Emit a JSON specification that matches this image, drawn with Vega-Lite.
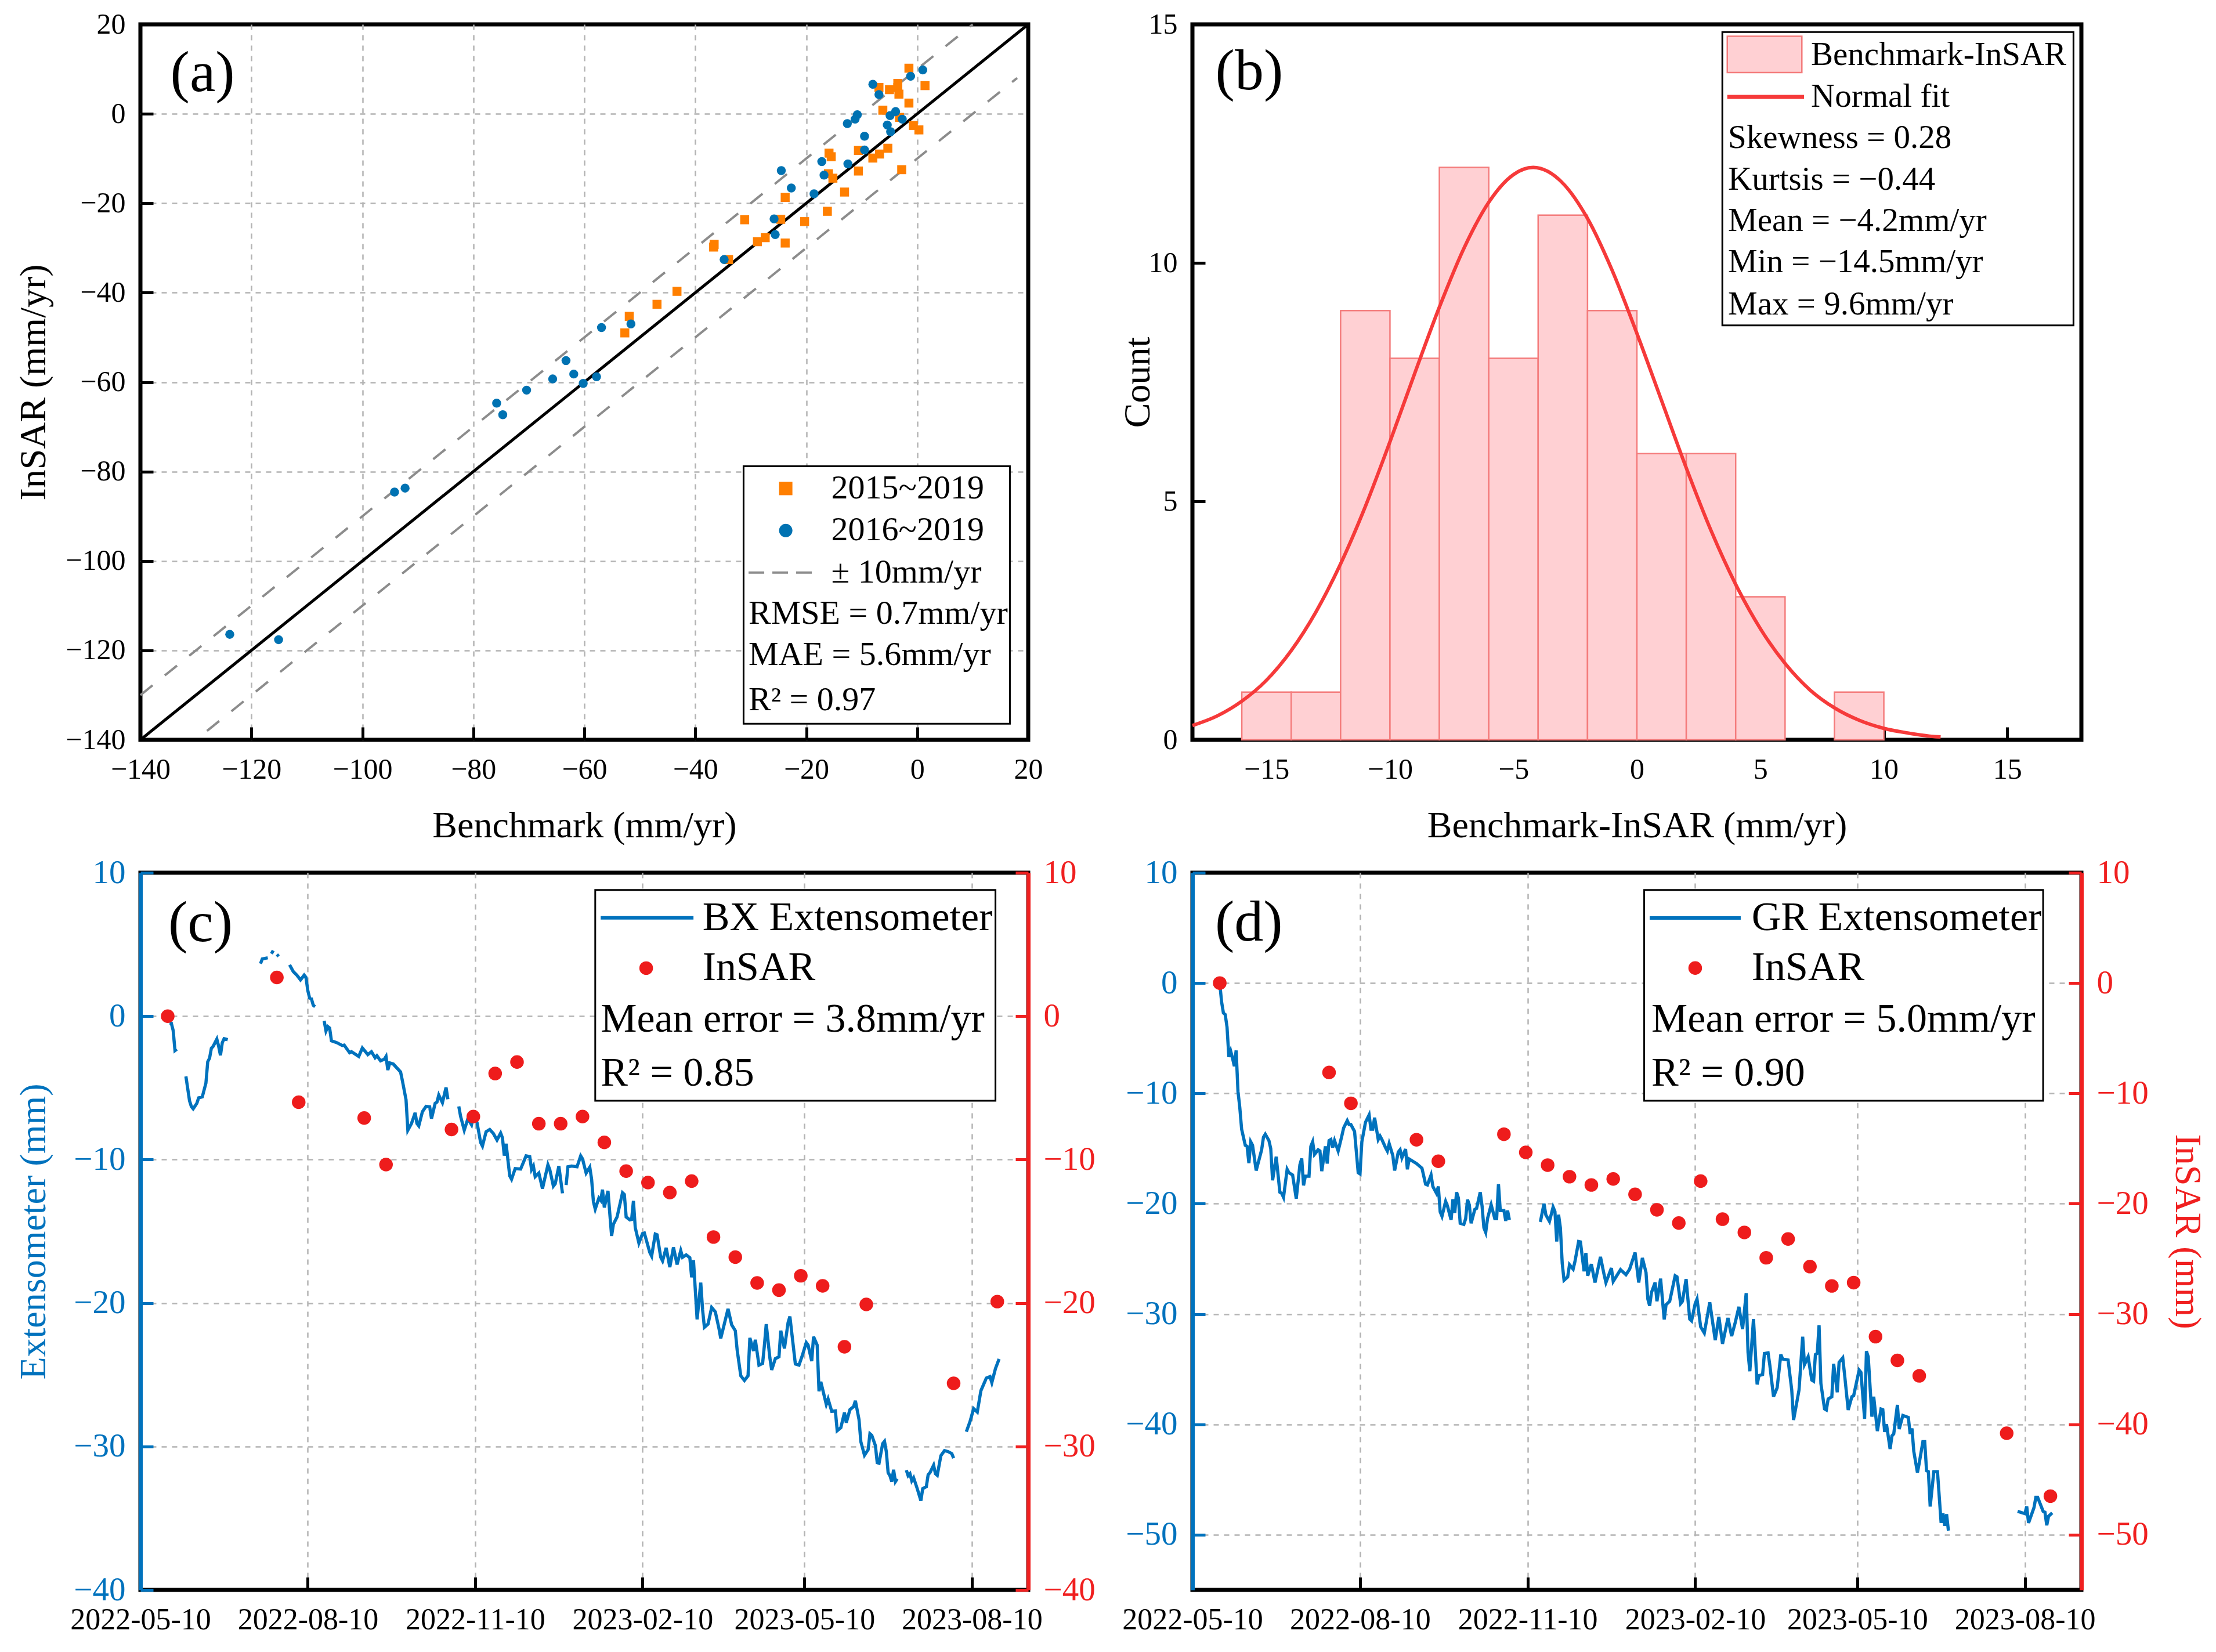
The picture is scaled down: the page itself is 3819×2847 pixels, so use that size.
{"$schema":"https://vega.github.io/schema/vega-lite/v6.json","background":"white","padding":{"left":23,"top":13,"right":0,"bottom":0},"columns":2,"spacing":{"row":229,"column":283},"bounds":"flush",
"config":{"font":"Liberation Serif","view":{"stroke":"#000","strokeWidth":7},"axis":{"labelFont":"Liberation Serif","labelFontSize":50,"titleFont":"Liberation Serif","titleFontSize":64,"titleFontWeight":"normal","titleColor":"#000","labelColor":"#000","domain":false,"grid":false,"tickColor":"#000","tickWidth":5,"tickSize":-22,"gridColor":"#b4b4b4","gridDash":[9,9],"gridWidth":2.5,"labelOverlap":false,"labelFlush":false,"labelBound":false,"labelPadding":48,"labelAngle":0,"labelLimit":500},"text":{"font":"Liberation Serif","fontSize":58,"align":"left","baseline":"middle","color":"#000"}},
"concat":[
{"width":1530,"height":1233,
"encoding":{"x":{"field":"x","type":"quantitative","scale":{"domain":[-140,20],"nice":false},"axis":{"title":"Benchmark (mm/yr)","values":[-140,-120,-100,-80,-60,-40,-20,0,20],"grid":true,"gridOpacity":{"condition":{"test":"datum.value==20||datum.value==-140","value":0},"value":1},"titlePadding":40}},"y":{"field":"y","type":"quantitative","scale":{"domain":[-140,20],"nice":false},"axis":{"title":"InSAR (mm/yr)","values":[-140,-120,-100,-80,-60,-40,-20,0,20],"grid":true,"gridOpacity":{"condition":{"test":"datum.value==20||datum.value==-140","value":0},"value":1},"titlePadding":22}}},
"layer":[
{"data":{"values":[{"x":-140,"y":-130},{"x":10,"y":20}]},"mark":{"type":"line","color":"#8c8c8c","strokeWidth":4,"strokeDash":[27,27]}},
{"data":{"values":[{"x":-128,"y":-138},{"x":18,"y":8}]},"mark":{"type":"line","color":"#8c8c8c","strokeWidth":4,"strokeDash":[27,27]}},
{"data":{"values":[{"x":-140,"y":-140},{"x":20,"y":20}]},"mark":{"type":"line","color":"#000","strokeWidth":5}},
{"data":{"values":[{"x":-1.5,"y":10.2},{"x":1.4,"y":6.3},{"x":-6.9,"y":5.9},{"x":-5,"y":5.4},{"x":-3.5,"y":6.8},{"x":-3.5,"y":5.9},{"x":-3.3,"y":4.4},{"x":-1.5,"y":2.4},{"x":-6.2,"y":0.8},{"x":-3.2,"y":-0.8},{"x":-0.7,"y":-2.6},{"x":0.3,"y":-3.6},{"x":-5.3,"y":-7.7},{"x":-6.8,"y":-9},{"x":-8,"y":-9.9},{"x":-10.6,"y":-8.2},{"x":-2.8,"y":-12.5},{"x":-15.9,"y":-8.8},{"x":-15.5,"y":-9.6},{"x":-16,"y":-13.4},{"x":-15.2,"y":-14.4},{"x":-10.6,"y":-12.8},{"x":-13.1,"y":-17.5},{"x":-23.8,"y":-18.7},{"x":-16.2,"y":-21.8},{"x":-20.3,"y":-24.1},{"x":-24.6,"y":-23.6},{"x":-31.1,"y":-23.7},{"x":-27.4,"y":-27.7},{"x":-28.8,"y":-28.6},{"x":-23.8,"y":-28.9},{"x":-36.6,"y":-29.2},{"x":-36.7,"y":-29.8},{"x":-34,"y":-32.6},{"x":-43.3,"y":-39.7},{"x":-46.9,"y":-42.6},{"x":-51.9,"y":-45.3},{"x":-52.7,"y":-49}]},"mark":{"type":"point","shape":"square","filled":true,"opacity":1,"size":240,"color":"#FF7F00"}},
{"data":{"values":[{"x":1,"y":9.8},{"x":-1.2,"y":8.4},{"x":-8,"y":6.6},{"x":-6.9,"y":4.3},{"x":-10.8,"y":-0.2},{"x":-11.2,"y":-1.2},{"x":-12.6,"y":-2.2},{"x":-3.9,"y":0.5},{"x":-4.9,"y":-0.4},{"x":-2.7,"y":-1.2},{"x":-5.4,"y":-2.5},{"x":-4.8,"y":-4},{"x":-9.5,"y":-5},{"x":-9.5,"y":-8.1},{"x":-17.2,"y":-10.7},{"x":-12.5,"y":-11.2},{"x":-24.5,"y":-12.7},{"x":-16.8,"y":-13.7},{"x":-22.7,"y":-16.6},{"x":-18.6,"y":-17.9},{"x":-25.8,"y":-23.5},{"x":-25.6,"y":-27},{"x":-34.8,"y":-32.6},{"x":-51.6,"y":-47},{"x":-56.9,"y":-47.8},{"x":-57.8,"y":-58.8},{"x":-60.2,"y":-60.3},{"x":-61.9,"y":-58.2},{"x":-65.7,"y":-59.3},{"x":-63.3,"y":-55.2},{"x":-70.4,"y":-61.8},{"x":-75.8,"y":-64.7},{"x":-74.7,"y":-67.3},{"x":-92.3,"y":-83.7},{"x":-94.2,"y":-84.6},{"x":-115.1,"y":-117.6},{"x":-123.9,"y":-116.4}]},"mark":{"type":"circle","opacity":1,"size":240,"color":"#0072B2"}},
{"data":{"values":[{"x":-31.3,"y":-78.8,"x2":16.7,"y2":-136.4}]},"mark":{"type":"rect","fill":"white","stroke":"#000","strokeWidth":3},"encoding":{"x2":{"field":"x2"},"y2":{"field":"y2"}}},
{"data":{"values":[{"x":-23.7,"y":-83.8}]},"mark":{"type":"point","shape":"square","filled":true,"opacity":1,"size":530,"color":"#FF7F00"}},
{"data":{"values":[{"x":-23.7,"y":-93.2}]},"mark":{"type":"circle","opacity":1,"size":530,"color":"#0072B2"}},
{"data":{"values":[{"x":-30.4,"y":-102.6},{"x":-17.7,"y":-102.6}]},"mark":{"type":"line","color":"#8c8c8c","strokeWidth":4,"strokeDash":[27,14]}},
{"data":{"values":[{"x":-15.5,"y":-83.8,"t":"2015~2019"},{"x":-15.5,"y":-93.2,"t":"2016~2019"},{"x":-15.5,"y":-102.6,"t":"± 10mm/yr"},{"x":-30.4,"y":-111.8,"t":"RMSE = 0.7mm/yr"},{"x":-30.4,"y":-121.1,"t":"MAE = 5.6mm/yr"},{"x":-30.4,"y":-131.2,"t":"R² = 0.97"}]},"mark":{"type":"text"},"encoding":{"text":{"field":"t"}}},
{"data":{"values":[{"x":-128.8,"y":9,"t":"(a)"}]},"mark":{"type":"text","fontSize":100,"align":"center"},"encoding":{"text":{"field":"t"}}}
]},
{"width":1532,"height":1233,
"encoding":{"x":{"field":"x","type":"quantitative","scale":{"domain":[-18,18],"nice":false},"axis":{"title":"Benchmark-InSAR (mm/yr)","values":[-15,-10,-5,0,5,10,15],"titlePadding":40}},"y":{"field":"y","type":"quantitative","scale":{"domain":[0,15],"nice":false},"axis":{"title":"Count","values":[0,5,10,15],"titlePadding":-14}}},
"layer":[
{"data":{"values":[{"x":-16,"x2":-14,"y":1},{"x":-14,"x2":-12,"y":1},{"x":-12,"x2":-10,"y":9},{"x":-10,"x2":-8,"y":8},{"x":-8,"x2":-6,"y":12},{"x":-6,"x2":-4,"y":8},{"x":-4,"x2":-2,"y":11},{"x":-2,"x2":0,"y":9},{"x":0,"x2":2,"y":6},{"x":2,"x2":4,"y":6},{"x":4,"x2":6,"y":3},{"x":8,"x2":10,"y":1}]},"mark":{"type":"rect","fill":"#FFD0D3","stroke":"#F47C7C","strokeWidth":2.5},"encoding":{"x2":{"field":"x2"},"y2":{"datum":0}}},
{"data":{"values":[{"x":-18,"y":0.3},{"x":-17,"y":0.5},{"x":-16,"y":0.81},{"x":-15,"y":1.25},{"x":-14,"y":1.87},{"x":-13,"y":2.68},{"x":-12,"y":3.69},{"x":-11,"y":4.89},{"x":-10,"y":6.25},{"x":-9,"y":7.68},{"x":-8,"y":9.07},{"x":-7,"y":10.31},{"x":-6,"y":11.27},{"x":-5,"y":11.85},{"x":-4.2,"y":12},{"x":-3,"y":11.67},{"x":-2,"y":10.93},{"x":-1,"y":9.84},{"x":0,"y":8.52},{"x":1,"y":7.11},{"x":2,"y":5.7},{"x":3,"y":4.39},{"x":4,"y":3.26},{"x":5,"y":2.33},{"x":6,"y":1.6},{"x":7,"y":1.05},{"x":8,"y":0.67},{"x":9,"y":0.41},{"x":10,"y":0.24},{"x":11,"y":0.14},{"x":12,"y":0.07},{"x":12.3,"y":0.06}]},"mark":{"type":"line","color":"#F63A3A","strokeWidth":6,"interpolate":"monotone"}},
{"data":{"values":[{"x":3.46,"y":14.84,"x2":17.68,"y2":8.69}]},"mark":{"type":"rect","fill":"white","stroke":"#000","strokeWidth":3},"encoding":{"x2":{"field":"x2"},"y2":{"field":"y2"}}},
{"data":{"values":[{"x":3.66,"y":14.75,"x2":6.68,"y2":13.99}]},"mark":{"type":"rect","fill":"#FFD0D3","stroke":"#F47C7C","strokeWidth":2.5},"encoding":{"x2":{"field":"x2"},"y2":{"field":"y2"}}},
{"data":{"values":[{"x":3.66,"y":13.48},{"x":6.77,"y":13.48}]},"mark":{"type":"line","color":"#F63A3A","strokeWidth":7}},
{"data":{"values":[{"x":7.05,"y":14.36,"t":"Benchmark-InSAR"},{"x":7.05,"y":13.48,"t":"Normal fit"},{"x":3.69,"y":12.62,"t":"Skewness = 0.28"},{"x":3.69,"y":11.74,"t":"Kurtsis = −0.44"},{"x":3.69,"y":10.88,"t":"Mean = −4.2mm/yr"},{"x":3.69,"y":10.01,"t":"Min = −14.5mm/yr"},{"x":3.69,"y":9.13,"t":"Max = 9.6mm/yr"}]},"mark":{"type":"text","fontSize":57},"encoding":{"text":{"field":"t"}}},
{"data":{"values":[{"x":-15.7,"y":14,"t":"(b)"}]},"mark":{"type":"text","fontSize":100,"align":"center"},"encoding":{"text":{"field":"t"}}}
]},
{"width":1530,"height":1236,
"encoding":{"x":{"field":"x","type":"temporal","scale":{"domain":[{"year":2022,"month":5,"date":10},{"year":2023,"month":9,"date":10}]},"axis":{"title":null,"format":"%Y-%m-%d","labelFontSize":52,"values":[{"year":2022,"month":5,"date":10},{"year":2022,"month":8,"date":10},{"year":2022,"month":11,"date":10},{"year":2023,"month":2,"date":10},{"year":2023,"month":5,"date":10},{"year":2023,"month":8,"date":10}],"grid":true,"gridOpacity":{"condition":{"test":"datum.index==0","value":0},"value":1}}}},
"resolve":{"scale":{"y":"independent"}},
"layer":[
{"encoding":{"y":{"field":"y","type":"quantitative","scale":{"domain":[-40,10],"nice":false},"axis":{"title":"Extensometer (mm)","values":[-40,-30,-20,-10,0,10],"grid":true,"gridOpacity":{"condition":{"test":"datum.value==10||datum.value==-40","value":0},"value":1},"domain":true,"domainColor":"#0072BD","domainWidth":7,"tickColor":"#0072BD","labelColor":"#0072BD","titleColor":"#0072BD","labelFontSize":57,"titlePadding":36}}},
"layer":[
{"data":{"values":[{"x":"2022-05-26","y":-0.5},{"x":"2022-05-27","y":-0.5},{"x":"2022-05-28","y":-1},{"x":"2022-05-29","y":-2.4},{"x":"2022-05-30","y":-2.3},{"x":"2022-05-31","y":null},{"x":"2022-06-04","y":-4.2},{"x":"2022-06-06","y":-5.9},{"x":"2022-06-07","y":-6.3},{"x":"2022-06-08","y":-6.46},{"x":"2022-06-10","y":-6.08},{"x":"2022-06-11","y":-5.7},{"x":"2022-06-13","y":-5.63},{"x":"2022-06-15","y":-4.67},{"x":"2022-06-16","y":-3.18},{"x":"2022-06-17","y":-2.93},{"x":"2022-06-18","y":-2.24},{"x":"2022-06-19","y":-2.1},{"x":"2022-06-21","y":-1.6},{"x":"2022-06-22","y":-2.1},{"x":"2022-06-23","y":-2.73},{"x":"2022-06-24","y":-1.85},{"x":"2022-06-25","y":-1.57},{"x":"2022-06-27","y":-1.64},{"x":"2022-06-28","y":null},{"x":"2022-07-15","y":3.66},{"x":"2022-07-16","y":3.99},{"x":"2022-07-19","y":4.07},{"x":"2022-07-20","y":null},{"x":"2022-07-21","y":4.35},{"x":"2022-07-22","y":4.57},{"x":"2022-07-23","y":null},{"x":"2022-07-24","y":4.3},{"x":"2022-07-25","y":4.17},{"x":"2022-07-26","y":null},{"x":"2022-07-31","y":3.58},{"x":"2022-08-02","y":3.11},{"x":"2022-08-04","y":2.86},{"x":"2022-08-06","y":2.53},{"x":"2022-08-08","y":2.86},{"x":"2022-08-09","y":2.7},{"x":"2022-08-10","y":1.79},{"x":"2022-08-11","y":1.26},{"x":"2022-08-12","y":1.21},{"x":"2022-08-13","y":0.76},{"x":"2022-08-14","y":0.66},{"x":"2022-08-15","y":null},{"x":"2022-08-19","y":-0.33},{"x":"2022-08-20","y":-1.03},{"x":"2022-08-21","y":-0.73},{"x":"2022-08-22","y":-0.83},{"x":"2022-08-23","y":-1.72},{"x":"2022-08-26","y":-1.85},{"x":"2022-08-29","y":-2.05},{"x":"2022-08-30","y":-2.02},{"x":"2022-09-02","y":-2.55},{"x":"2022-09-03","y":-2.48},{"x":"2022-09-07","y":-2.81},{"x":"2022-09-09","y":-2.22},{"x":"2022-09-12","y":-2.68},{"x":"2022-09-14","y":-2.48},{"x":"2022-09-16","y":-2.9},{"x":"2022-09-17","y":-2.76},{"x":"2022-09-19","y":-3.11},{"x":"2022-09-21","y":-3.01},{"x":"2022-09-22","y":-2.81},{"x":"2022-09-23","y":-3.76},{"x":"2022-09-24","y":-3.26},{"x":"2022-09-26","y":-3.34},{"x":"2022-09-30","y":-3.89},{"x":"2022-10-01","y":-4.5},{"x":"2022-10-03","y":-5.83},{"x":"2022-10-04","y":-7.95},{"x":"2022-10-06","y":-7.48},{"x":"2022-10-08","y":-6.74},{"x":"2022-10-09","y":-7.48},{"x":"2022-10-10","y":-7.65},{"x":"2022-10-12","y":-6.66},{"x":"2022-10-14","y":-6.29},{"x":"2022-10-16","y":-6.32},{"x":"2022-10-17","y":-7.15},{"x":"2022-10-19","y":-6.08},{"x":"2022-10-20","y":-5.99},{"x":"2022-10-21","y":-5.5},{"x":"2022-10-23","y":-6.03},{"x":"2022-10-25","y":-4.97},{"x":"2022-10-26","y":-5.79},{"x":"2022-10-27","y":null},{"x":"2022-11-01","y":-6.29},{"x":"2022-11-02","y":-6.99},{"x":"2022-11-04","y":-7.95},{"x":"2022-11-06","y":-7.15},{"x":"2022-11-08","y":-7.57},{"x":"2022-11-09","y":-6.99},{"x":"2022-11-11","y":-7.4},{"x":"2022-11-13","y":-8.81},{"x":"2022-11-14","y":-9.06},{"x":"2022-11-16","y":-8.06},{"x":"2022-11-18","y":-7.9},{"x":"2022-11-20","y":-8.18},{"x":"2022-11-22","y":-8.64},{"x":"2022-11-24","y":-8.15},{"x":"2022-11-25","y":-8.48},{"x":"2022-11-26","y":-9.72},{"x":"2022-11-27","y":-8.89},{"x":"2022-11-29","y":-11.13},{"x":"2022-11-30","y":-11.37},{"x":"2022-12-02","y":-10.63},{"x":"2022-12-05","y":-10.66},{"x":"2022-12-08","y":-9.74},{"x":"2022-12-10","y":-9.79},{"x":"2022-12-11","y":-10.69},{"x":"2022-12-12","y":-10.45},{"x":"2022-12-13","y":-11.19},{"x":"2022-12-15","y":-10.94},{"x":"2022-12-17","y":-12.02},{"x":"2022-12-20","y":-10.36},{"x":"2022-12-21","y":-10.69},{"x":"2022-12-23","y":-11.85},{"x":"2022-12-24","y":-11.69},{"x":"2022-12-26","y":-10.45},{"x":"2022-12-28","y":-12.35},{"x":"2022-12-29","y":null},{"x":"2022-12-30","y":-11.77},{"x":"2022-12-31","y":-10.5},{"x":"2023-01-02","y":-10.45},{"x":"2023-01-05","y":-10.5},{"x":"2023-01-07","y":-9.74},{"x":"2023-01-08","y":-9.95},{"x":"2023-01-10","y":-10.94},{"x":"2023-01-12","y":-10.53},{"x":"2023-01-13","y":-11.36},{"x":"2023-01-14","y":-12.93},{"x":"2023-01-15","y":-13.45},{"x":"2023-01-17","y":-12.68},{"x":"2023-01-18","y":-12.84},{"x":"2023-01-19","y":-12.1},{"x":"2023-01-20","y":-13.34},{"x":"2023-01-22","y":-12.18},{"x":"2023-01-24","y":-15.32},{"x":"2023-01-25","y":-14.5},{"x":"2023-01-27","y":-14},{"x":"2023-01-30","y":-12.31},{"x":"2023-01-31","y":-12.43},{"x":"2023-02-01","y":-14},{"x":"2023-02-03","y":-14.2},{"x":"2023-02-04","y":-14.17},{"x":"2023-02-05","y":-12.88},{"x":"2023-02-06","y":-14.74},{"x":"2023-02-08","y":-15.82},{"x":"2023-02-10","y":-15.16},{"x":"2023-02-11","y":-15.12},{"x":"2023-02-14","y":-16.48},{"x":"2023-02-15","y":-16.73},{"x":"2023-02-17","y":-15.19},{"x":"2023-02-18","y":-15.24},{"x":"2023-02-20","y":-16.81},{"x":"2023-02-21","y":-17.06},{"x":"2023-02-23","y":-16.15},{"x":"2023-02-25","y":-17.5},{"x":"2023-02-27","y":-16.12},{"x":"2023-03-01","y":-17.31},{"x":"2023-03-03","y":-16.35},{"x":"2023-03-04","y":-16.81},{"x":"2023-03-06","y":-16.64},{"x":"2023-03-08","y":-16.84},{"x":"2023-03-09","y":-18.21},{"x":"2023-03-10","y":-17.01},{"x":"2023-03-12","y":-21.14},{"x":"2023-03-14","y":-18.58},{"x":"2023-03-15","y":-20.45},{"x":"2023-03-16","y":-21.69},{"x":"2023-03-18","y":-21.47},{"x":"2023-03-20","y":-20.31},{"x":"2023-03-22","y":-20.61},{"x":"2023-03-24","y":-21.77},{"x":"2023-03-25","y":-22.46},{"x":"2023-03-27","y":-21.44},{"x":"2023-03-29","y":-20.41},{"x":"2023-03-31","y":-21.52},{"x":"2023-04-02","y":-21.93},{"x":"2023-04-03","y":-23.26},{"x":"2023-04-05","y":-25.07},{"x":"2023-04-07","y":-25.4},{"x":"2023-04-09","y":-25.07},{"x":"2023-04-10","y":-22.43},{"x":"2023-04-12","y":-23.34},{"x":"2023-04-13","y":-22.56},{"x":"2023-04-15","y":-24.33},{"x":"2023-04-17","y":-24.21},{"x":"2023-04-18","y":-22.93},{"x":"2023-04-19","y":-21.47},{"x":"2023-04-21","y":-23.83},{"x":"2023-04-22","y":-24.66},{"x":"2023-04-24","y":-23.88},{"x":"2023-04-26","y":-23.75},{"x":"2023-04-27","y":-21.93},{"x":"2023-04-29","y":-23.17},{"x":"2023-05-01","y":-21.36},{"x":"2023-05-02","y":-20.94},{"x":"2023-05-05","y":-24.25},{"x":"2023-05-07","y":-24.33},{"x":"2023-05-09","y":-23.59},{"x":"2023-05-11","y":-22.76},{"x":"2023-05-12","y":-22.93},{"x":"2023-05-14","y":-24.05},{"x":"2023-05-15","y":-22.35},{"x":"2023-05-17","y":-22.93},{"x":"2023-05-18","y":-26.15},{"x":"2023-05-19","y":-25.49},{"x":"2023-05-22","y":-27.06},{"x":"2023-05-23","y":-26.69},{"x":"2023-05-25","y":-27.55},{"x":"2023-05-27","y":-27.52},{"x":"2023-05-28","y":-28.9},{"x":"2023-05-30","y":-28.69},{"x":"2023-06-01","y":-27.64},{"x":"2023-06-02","y":-28.34},{"x":"2023-06-04","y":-27.43},{"x":"2023-06-06","y":-27.22},{"x":"2023-06-07","y":-26.81},{"x":"2023-06-09","y":-28.13},{"x":"2023-06-10","y":-29.67},{"x":"2023-06-12","y":-30.61},{"x":"2023-06-14","y":-30.22},{"x":"2023-06-15","y":-29.11},{"x":"2023-06-16","y":-29.22},{"x":"2023-06-18","y":-29.94},{"x":"2023-06-19","y":-31.13},{"x":"2023-06-20","y":-31.17},{"x":"2023-06-22","y":-29.8},{"x":"2023-06-23","y":-29.64},{"x":"2023-06-24","y":-30.36},{"x":"2023-06-25","y":-31.83},{"x":"2023-06-26","y":-32.04},{"x":"2023-06-27","y":-32.45},{"x":"2023-06-28","y":-31.62},{"x":"2023-06-29","y":-32.45},{"x":"2023-06-30","y":-32.25},{"x":"2023-07-01","y":null},{"x":"2023-07-05","y":-31.65},{"x":"2023-07-06","y":-32.04},{"x":"2023-07-07","y":-31.9},{"x":"2023-07-08","y":-32.39},{"x":"2023-07-09","y":-32.18},{"x":"2023-07-11","y":-32.94},{"x":"2023-07-13","y":-33.78},{"x":"2023-07-14","y":-32.94},{"x":"2023-07-16","y":-32.8},{"x":"2023-07-17","y":-31.97},{"x":"2023-07-18","y":-31.83},{"x":"2023-07-20","y":-31.31},{"x":"2023-07-21","y":-31.9},{"x":"2023-07-22","y":-32.01},{"x":"2023-07-24","y":-30.64},{"x":"2023-07-26","y":-30.29},{"x":"2023-07-28","y":-30.36},{"x":"2023-07-30","y":-30.5},{"x":"2023-07-31","y":-30.82},{"x":"2023-08-01","y":null},{"x":"2023-08-07","y":-28.97},{"x":"2023-08-09","y":-28.27},{"x":"2023-08-11","y":-27.36},{"x":"2023-08-13","y":-27.6},{"x":"2023-08-15","y":-26.11},{"x":"2023-08-18","y":-25.23},{"x":"2023-08-20","y":-25.13},{"x":"2023-08-21","y":-25.55},{"x":"2023-08-23","y":-24.57},{"x":"2023-08-25","y":-23.9}]},"mark":{"type":"line","color":"#0072BD","strokeWidth":5.5}},
{"data":{"values":[{"x":"2023-01-15","y":8.8,"x2":"2023-08-23","y2":-5.9}],"format":{"parse":{"x":"date","x2":"date"}}},"mark":{"type":"rect","fill":"white","stroke":"#000","strokeWidth":3},"encoding":{"x2":{"field":"x2"},"y2":{"field":"y2"}}},
{"data":{"values":[{"x":"2023-01-18","y":6.85},{"x":"2023-03-10","y":6.85}]},"mark":{"type":"line","color":"#0072BD","strokeWidth":6}},
{"data":{"values":[{"x":"2023-02-12","y":3.35}]},"mark":{"type":"circle","opacity":1,"size":551,"color":"#EE1C1C"}},
{"data":{"values":[{"x":"2023-03-15","y":6.85,"t":"BX Extensometer"},{"x":"2023-03-15","y":3.35,"t":"InSAR"},{"x":"2023-01-18","y":-0.25,"t":"Mean error = 3.8mm/yr"},{"x":"2023-01-18","y":-4,"t":"R² = 0.85"}]},"mark":{"type":"text","fontSize":70},"encoding":{"text":{"field":"t"}}},
{"data":{"values":[{"x":"2022-06-12","y":6.45,"t":"(c)"}]},"mark":{"type":"text","fontSize":100,"align":"center"},"encoding":{"text":{"field":"t"}}}
]},
{"data":{"values":[{"x":"2022-05-25","y":0},{"x":"2022-07-24","y":2.7},{"x":"2022-08-05","y":-6},{"x":"2022-09-10","y":-7.1},{"x":"2022-09-22","y":-10.35},{"x":"2022-10-28","y":-7.9},{"x":"2022-11-09","y":-7},{"x":"2022-11-21","y":-4},{"x":"2022-12-03","y":-3.2},{"x":"2022-12-15","y":-7.5},{"x":"2022-12-27","y":-7.5},{"x":"2023-01-08","y":-7},{"x":"2023-01-20","y":-8.8},{"x":"2023-02-01","y":-10.8},{"x":"2023-02-13","y":-11.6},{"x":"2023-02-25","y":-12.3},{"x":"2023-03-09","y":-11.5},{"x":"2023-03-21","y":-15.4},{"x":"2023-04-02","y":-16.8},{"x":"2023-04-14","y":-18.6},{"x":"2023-04-26","y":-19.1},{"x":"2023-05-08","y":-18.1},{"x":"2023-05-20","y":-18.8},{"x":"2023-06-01","y":-23.05},{"x":"2023-06-13","y":-20.1},{"x":"2023-07-31","y":-25.6},{"x":"2023-08-24","y":-19.9}]},"mark":{"type":"circle","opacity":1,"size":551,"color":"#EE1C1C"},"encoding":{"y":{"field":"y","type":"quantitative","scale":{"domain":[-40,10],"nice":false},"axis":{"title":null,"orient":"right","values":[-40,-30,-20,-10,0,10],"domain":true,"domainColor":"#F02020","domainWidth":7,"tickColor":"#F02020","labelColor":"#F02020","labelFontSize":57}}}}
]},
{"width":1532,"height":1236,
"encoding":{"x":{"field":"x","type":"temporal","scale":{"domain":[{"year":2022,"month":5,"date":10},{"year":2023,"month":9,"date":10}]},"axis":{"title":null,"format":"%Y-%m-%d","labelFontSize":52,"values":[{"year":2022,"month":5,"date":10},{"year":2022,"month":8,"date":10},{"year":2022,"month":11,"date":10},{"year":2023,"month":2,"date":10},{"year":2023,"month":5,"date":10},{"year":2023,"month":8,"date":10}],"grid":true,"gridOpacity":{"condition":{"test":"datum.index==0","value":0},"value":1}}}},
"resolve":{"scale":{"y":"independent"}},
"layer":[
{"encoding":{"y":{"field":"y","type":"quantitative","scale":{"domain":[-55,10],"nice":false},"axis":{"title":null,"values":[-50,-40,-30,-20,-10,0,10],"grid":true,"gridOpacity":{"condition":{"test":"datum.value==10","value":0},"value":1},"domain":true,"domainColor":"#0072BD","domainWidth":7,"tickColor":"#0072BD","labelColor":"#0072BD","labelFontSize":57}}},
"layer":[
{"data":{"values":[{"x":"2022-05-25","y":0},{"x":"2022-05-26","y":-1.7},{"x":"2022-05-27","y":-2.7},{"x":"2022-05-28","y":-2.85},{"x":"2022-05-29","y":-4},{"x":"2022-05-30","y":-6.7},{"x":"2022-05-31","y":-6.17},{"x":"2022-06-01","y":-6.8},{"x":"2022-06-02","y":-7.53},{"x":"2022-06-03","y":-6.11},{"x":"2022-06-04","y":-9.81},{"x":"2022-06-05","y":-11.27},{"x":"2022-06-06","y":-13.24},{"x":"2022-06-08","y":-14.7},{"x":"2022-06-09","y":-14.8},{"x":"2022-06-10","y":-16.32},{"x":"2022-06-11","y":-14.39},{"x":"2022-06-12","y":-14.7},{"x":"2022-06-14","y":-16.99},{"x":"2022-06-17","y":-15.11},{"x":"2022-06-18","y":-13.97},{"x":"2022-06-19","y":-13.7},{"x":"2022-06-21","y":-14.28},{"x":"2022-06-22","y":-15.01},{"x":"2022-06-23","y":-17.88},{"x":"2022-06-25","y":-15.74},{"x":"2022-06-27","y":-18.96},{"x":"2022-06-28","y":-19.06},{"x":"2022-06-29","y":-19.42},{"x":"2022-07-01","y":-16.88},{"x":"2022-07-02","y":-17.19},{"x":"2022-07-04","y":-17.4},{"x":"2022-07-06","y":-19.54},{"x":"2022-07-08","y":-16.47},{"x":"2022-07-09","y":-15.9},{"x":"2022-07-10","y":-18.34},{"x":"2022-07-11","y":-17.5},{"x":"2022-07-13","y":-17.5},{"x":"2022-07-14","y":-14.8},{"x":"2022-07-15","y":-14.39},{"x":"2022-07-16","y":-15.53},{"x":"2022-07-18","y":-15.11},{"x":"2022-07-19","y":-15.22},{"x":"2022-07-20","y":-17.05},{"x":"2022-07-22","y":-14.8},{"x":"2022-07-23","y":-16.36},{"x":"2022-07-24","y":-14.28},{"x":"2022-07-25","y":-14.18},{"x":"2022-07-26","y":-14.91},{"x":"2022-07-27","y":-14.28},{"x":"2022-07-29","y":-15.22},{"x":"2022-07-31","y":-13.87},{"x":"2022-08-01","y":-13.14},{"x":"2022-08-03","y":-12.47},{"x":"2022-08-04","y":-12.83},{"x":"2022-08-05","y":-12.83},{"x":"2022-08-07","y":-13.45},{"x":"2022-08-09","y":-17.19},{"x":"2022-08-10","y":-17.3},{"x":"2022-08-11","y":-14.39},{"x":"2022-08-13","y":-12.62},{"x":"2022-08-15","y":-11.95},{"x":"2022-08-16","y":-13.24},{"x":"2022-08-17","y":-13.24},{"x":"2022-08-18","y":-12.2},{"x":"2022-08-20","y":-14.18},{"x":"2022-08-21","y":-13.87},{"x":"2022-08-22","y":-14.18},{"x":"2022-08-24","y":-14.91},{"x":"2022-08-25","y":-15.22},{"x":"2022-08-26","y":-14.55},{"x":"2022-08-28","y":-15.63},{"x":"2022-08-29","y":-16.99},{"x":"2022-08-31","y":-15.32},{"x":"2022-09-01","y":-15.11},{"x":"2022-09-02","y":-15.84},{"x":"2022-09-04","y":-15.05},{"x":"2022-09-05","y":-16.88},{"x":"2022-09-06","y":-15.95},{"x":"2022-09-10","y":-16.36},{"x":"2022-09-13","y":-16.78},{"x":"2022-09-15","y":-18.23},{"x":"2022-09-16","y":-18.3},{"x":"2022-09-18","y":-17.4},{"x":"2022-09-19","y":-18.44},{"x":"2022-09-21","y":-19.06},{"x":"2022-09-22","y":-18.44},{"x":"2022-09-23","y":-20.73},{"x":"2022-09-24","y":-21.14},{"x":"2022-09-26","y":-19.79},{"x":"2022-09-27","y":-20.21},{"x":"2022-09-29","y":-21.46},{"x":"2022-09-30","y":-19.6},{"x":"2022-10-01","y":-20.83},{"x":"2022-10-02","y":-18.96},{"x":"2022-10-03","y":-19.48},{"x":"2022-10-04","y":-21.77},{"x":"2022-10-06","y":-21.87},{"x":"2022-10-07","y":-21.35},{"x":"2022-10-08","y":-19.63},{"x":"2022-10-09","y":-20.1},{"x":"2022-10-10","y":-21.77},{"x":"2022-10-12","y":-20.52},{"x":"2022-10-13","y":-20.42},{"x":"2022-10-15","y":-18.96},{"x":"2022-10-16","y":-20.21},{"x":"2022-10-17","y":-22.18},{"x":"2022-10-18","y":-22.6},{"x":"2022-10-19","y":-21.35},{"x":"2022-10-21","y":-20.1},{"x":"2022-10-23","y":-21.35},{"x":"2022-10-24","y":-21.35},{"x":"2022-10-25","y":-18.23},{"x":"2022-10-26","y":-20.62},{"x":"2022-10-28","y":-20.62},{"x":"2022-10-29","y":-21.55},{"x":"2022-10-30","y":-20.62},{"x":"2022-10-31","y":-21.46},{"x":"2022-11-01","y":null},{"x":"2022-11-17","y":-21.65},{"x":"2022-11-19","y":-20},{"x":"2022-11-20","y":-21},{"x":"2022-11-22","y":-21.6},{"x":"2022-11-24","y":-20.3},{"x":"2022-11-25","y":-20.7},{"x":"2022-11-26","y":-23.42},{"x":"2022-11-27","y":-21},{"x":"2022-11-28","y":-22.2},{"x":"2022-11-29","y":-25.4},{"x":"2022-11-30","y":-26.93},{"x":"2022-12-02","y":-26.63},{"x":"2022-12-03","y":-25.53},{"x":"2022-12-05","y":-25.93},{"x":"2022-12-06","y":-25.23},{"x":"2022-12-08","y":-23.42},{"x":"2022-12-09","y":-23.46},{"x":"2022-12-11","y":-26.13},{"x":"2022-12-12","y":-24.46},{"x":"2022-12-13","y":-26.53},{"x":"2022-12-15","y":-25.47},{"x":"2022-12-17","y":-27.14},{"x":"2022-12-20","y":-24.82},{"x":"2022-12-22","y":-26.43},{"x":"2022-12-23","y":-27.14},{"x":"2022-12-26","y":-25.83},{"x":"2022-12-27","y":-27.04},{"x":"2022-12-31","y":-25.97},{"x":"2023-01-03","y":-26.43},{"x":"2023-01-05","y":-25.93},{"x":"2023-01-08","y":-24.42},{"x":"2023-01-10","y":-27.14},{"x":"2023-01-12","y":-24.92},{"x":"2023-01-14","y":-26.23},{"x":"2023-01-15","y":-28.64},{"x":"2023-01-16","y":-29.25},{"x":"2023-01-17","y":-28.04},{"x":"2023-01-19","y":-27.14},{"x":"2023-01-20","y":-28.84},{"x":"2023-01-22","y":-26.79},{"x":"2023-01-24","y":-30.49},{"x":"2023-01-25","y":-29.15},{"x":"2023-01-27","y":-28.84},{"x":"2023-01-30","y":-26.53},{"x":"2023-01-31","y":-26.63},{"x":"2023-02-02","y":-29.05},{"x":"2023-02-03","y":-28.84},{"x":"2023-02-05","y":-26.83},{"x":"2023-02-07","y":-30.45},{"x":"2023-02-08","y":-30.61},{"x":"2023-02-10","y":-29.05},{"x":"2023-02-11","y":-28.64},{"x":"2023-02-13","y":-31.16},{"x":"2023-02-15","y":-31.72},{"x":"2023-02-18","y":-28.94},{"x":"2023-02-21","y":-32.36},{"x":"2023-02-23","y":-30.25},{"x":"2023-02-25","y":-32.7},{"x":"2023-02-28","y":-30.35},{"x":"2023-03-02","y":-32},{"x":"2023-03-04","y":-30.75},{"x":"2023-03-06","y":-29.35},{"x":"2023-03-08","y":-31.36},{"x":"2023-03-10","y":-28.1},{"x":"2023-03-11","y":-33.47},{"x":"2023-03-12","y":-35.18},{"x":"2023-03-14","y":-30.45},{"x":"2023-03-16","y":-36.38},{"x":"2023-03-17","y":-35.58},{"x":"2023-03-19","y":-35.48},{"x":"2023-03-20","y":-33.57},{"x":"2023-03-22","y":-33.51},{"x":"2023-03-23","y":-34.67},{"x":"2023-03-25","y":-37.49},{"x":"2023-03-27","y":-36.68},{"x":"2023-03-29","y":-33.67},{"x":"2023-03-30","y":-34.07},{"x":"2023-04-02","y":-34.17},{"x":"2023-04-04","y":-36.88},{"x":"2023-04-05","y":-39.6},{"x":"2023-04-08","y":-36.88},{"x":"2023-04-10","y":-32.06},{"x":"2023-04-11","y":-34.57},{"x":"2023-04-13","y":-33.87},{"x":"2023-04-15","y":-35.98},{"x":"2023-04-16","y":-36.08},{"x":"2023-04-17","y":-33.67},{"x":"2023-04-18","y":-33.57},{"x":"2023-04-19","y":-31.02},{"x":"2023-04-20","y":-36.28},{"x":"2023-04-22","y":-38.59},{"x":"2023-04-23","y":-38.69},{"x":"2023-04-24","y":-37.69},{"x":"2023-04-26","y":-37.49},{"x":"2023-04-27","y":-34.51},{"x":"2023-04-29","y":-37.09},{"x":"2023-04-30","y":-34.37},{"x":"2023-05-02","y":-33.97},{"x":"2023-05-03","y":-35.48},{"x":"2023-05-05","y":-38.69},{"x":"2023-05-07","y":-37.49},{"x":"2023-05-08","y":-37.39},{"x":"2023-05-11","y":-35.08},{"x":"2023-05-12","y":-35.28},{"x":"2023-05-14","y":-39.5},{"x":"2023-05-15","y":-33.37},{"x":"2023-05-16","y":-33.87},{"x":"2023-05-18","y":-39.3},{"x":"2023-05-19","y":-37.49},{"x":"2023-05-21","y":-40.6},{"x":"2023-05-23","y":-38.61},{"x":"2023-05-24","y":-38.67},{"x":"2023-05-25","y":-40.68},{"x":"2023-05-26","y":-39.98},{"x":"2023-05-28","y":-42.23},{"x":"2023-05-29","y":-41.04},{"x":"2023-05-30","y":-40.86},{"x":"2023-06-01","y":-38.23},{"x":"2023-06-02","y":-40.42},{"x":"2023-06-04","y":-39.19},{"x":"2023-06-07","y":-39.37},{"x":"2023-06-08","y":-40.86},{"x":"2023-06-09","y":-40.37},{"x":"2023-06-10","y":-42.44},{"x":"2023-06-12","y":-44.37},{"x":"2023-06-13","y":-43.49},{"x":"2023-06-15","y":-41.56},{"x":"2023-06-16","y":-41.56},{"x":"2023-06-17","y":-44.19},{"x":"2023-06-18","y":-44.28},{"x":"2023-06-19","y":-47.44},{"x":"2023-06-21","y":-44.28},{"x":"2023-06-23","y":-44.28},{"x":"2023-06-25","y":-48.93},{"x":"2023-06-26","y":-48.05},{"x":"2023-06-27","y":-49.19},{"x":"2023-06-28","y":-48.14},{"x":"2023-06-29","y":-49.63},{"x":"2023-06-30","y":null},{"x":"2023-08-06","y":-47.88},{"x":"2023-08-10","y":-48.09},{"x":"2023-08-11","y":-47.44},{"x":"2023-08-12","y":-48.93},{"x":"2023-08-15","y":-47.53},{"x":"2023-08-16","y":-46.61},{"x":"2023-08-17","y":-46.61},{"x":"2023-08-20","y":-47.88},{"x":"2023-08-21","y":-47.96},{"x":"2023-08-22","y":-49.14},{"x":"2023-08-23","y":-48.32},{"x":"2023-08-25","y":-48.02}]},"mark":{"type":"line","color":"#0072BD","strokeWidth":5.5}},
{"data":{"values":[{"x":"2023-01-13","y":8.43,"x2":"2023-08-20","y2":-10.67}],"format":{"parse":{"x":"date","x2":"date"}}},"mark":{"type":"rect","fill":"white","stroke":"#000","strokeWidth":3},"encoding":{"x2":{"field":"x2"},"y2":{"field":"y2"}}},
{"data":{"values":[{"x":"2023-01-16","y":5.9},{"x":"2023-03-07","y":5.9}]},"mark":{"type":"line","color":"#0072BD","strokeWidth":6}},
{"data":{"values":[{"x":"2023-02-10","y":1.36}]},"mark":{"type":"circle","opacity":1,"size":551,"color":"#EE1C1C"}},
{"data":{"values":[{"x":"2023-03-13","y":5.9,"t":"GR Extensometer"},{"x":"2023-03-13","y":1.36,"t":"InSAR"},{"x":"2023-01-17","y":-3.32,"t":"Mean error = 5.0mm/yr"},{"x":"2023-01-17","y":-8.19,"t":"R² = 0.90"}]},"mark":{"type":"text","fontSize":70},"encoding":{"text":{"field":"t"}}},
{"data":{"values":[{"x":"2022-06-10","y":5.4,"t":"(d)"}]},"mark":{"type":"text","fontSize":100,"align":"center"},"encoding":{"text":{"field":"t"}}}
]},
{"data":{"values":[{"x":"2022-05-25","y":0},{"x":"2022-07-24","y":-8.1},{"x":"2022-08-05","y":-10.9},{"x":"2022-09-10","y":-14.2},{"x":"2022-09-22","y":-16.15},{"x":"2022-10-28","y":-13.7},{"x":"2022-11-09","y":-15.35},{"x":"2022-11-21","y":-16.5},{"x":"2022-12-03","y":-17.55},{"x":"2022-12-15","y":-18.3},{"x":"2022-12-27","y":-17.75},{"x":"2023-01-08","y":-19.15},{"x":"2023-01-20","y":-20.55},{"x":"2023-02-01","y":-21.75},{"x":"2023-02-13","y":-17.95},{"x":"2023-02-25","y":-21.4},{"x":"2023-03-09","y":-22.6},{"x":"2023-03-21","y":-24.9},{"x":"2023-04-02","y":-23.2},{"x":"2023-04-14","y":-25.7},{"x":"2023-04-26","y":-27.45},{"x":"2023-05-08","y":-27.15},{"x":"2023-05-20","y":-32.05},{"x":"2023-06-01","y":-34.2},{"x":"2023-06-13","y":-35.6},{"x":"2023-07-31","y":-40.8},{"x":"2023-08-24","y":-46.5}]},"mark":{"type":"circle","opacity":1,"size":551,"color":"#EE1C1C"},"encoding":{"y":{"field":"y","type":"quantitative","scale":{"domain":[-55,10],"nice":false},"axis":{"title":"InSAR (mm)","titleColor":"#F02020","orient":"right","values":[-50,-40,-30,-20,-10,0,10],"domain":true,"domainColor":"#F02020","domainWidth":7,"tickColor":"#F02020","labelColor":"#F02020","labelFontSize":57,"titlePadding":34}}}}
]}
]}
